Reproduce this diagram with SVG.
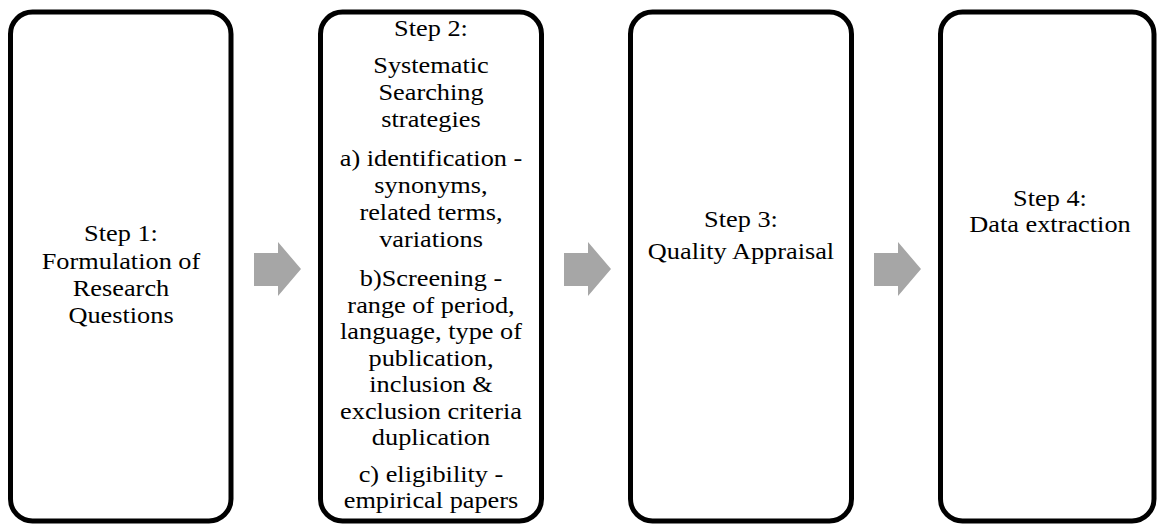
<svg xmlns="http://www.w3.org/2000/svg" width="1157" height="524" viewBox="0 0 1157 524">
<style>
.box{fill:#fff;stroke:#000;stroke-width:5}
.arr{fill:#A6A6A6;stroke:none}
text{font-family:"Liberation Serif","Times New Roman",serif;font-size:23.5px;fill:#000;text-anchor:middle}
</style>
<rect width="1157" height="524" fill="#fff"/>
<g id="connectors">
<polygon class="arr" points="254,253 278,253 278,242 301,269 278,296 278,286 254,286"/>
<polygon class="arr" points="564,253 588,253 588,242 611,269 588,296 588,286 564,286"/>
<polygon class="arr" points="874,253 898,253 898,242 921,269 898,296 898,286 874,286"/>
</g>
<g id="step1">
<rect class="box" x="10.5" y="12" width="220.5" height="509" rx="22"/>
<g transform="translate(121 0) scale(1.12 1)">
<text x="0" y="241">Step 1:</text>
<text x="0" y="269">Formulation of</text>
<text x="0" y="296">Research</text>
<text x="0" y="323">Questions</text>
</g>
</g>
<g id="step2">
<rect class="box" x="320.5" y="12" width="221" height="509" rx="22"/>
<g transform="translate(431 0) scale(1.12 1)">
<text x="0" y="36">Step 2:</text>
<text x="0" y="73">Systematic</text>
<text x="0" y="100">Searching</text>
<text x="0" y="127">strategies</text>
<text x="0" y="166">a) identification -</text>
<text x="0" y="193">synonyms,</text>
<text x="0" y="220">related terms,</text>
<text x="0" y="247">variations</text>
<text x="0" y="286">b)Screening -</text>
<text x="0" y="313">range of period,</text>
<text x="0" y="339">language, type of</text>
<text x="0" y="366">publication,</text>
<text x="0" y="392">inclusion &amp;</text>
<text x="0" y="419">exclusion criteria</text>
<text x="0" y="445">duplication</text>
<text x="0" y="482">c) eligibility -</text>
<text x="0" y="508">empirical papers</text>
</g>
</g>
<g id="step3">
<rect class="box" x="630.5" y="12" width="221" height="509" rx="22"/>
<g transform="translate(741 0) scale(1.12 1)">
<text x="0" y="227">Step 3:</text>
<text x="0" y="259">Quality Appraisal</text>
</g>
</g>
<g id="step4">
<rect class="box" x="940.5" y="12" width="213.5" height="509" rx="22"/>
<g transform="translate(1050 0) scale(1.12 1)">
<text x="0" y="206">Step 4:</text>
<text x="0" y="232">Data extraction</text>
</g>
</g>
</svg>
